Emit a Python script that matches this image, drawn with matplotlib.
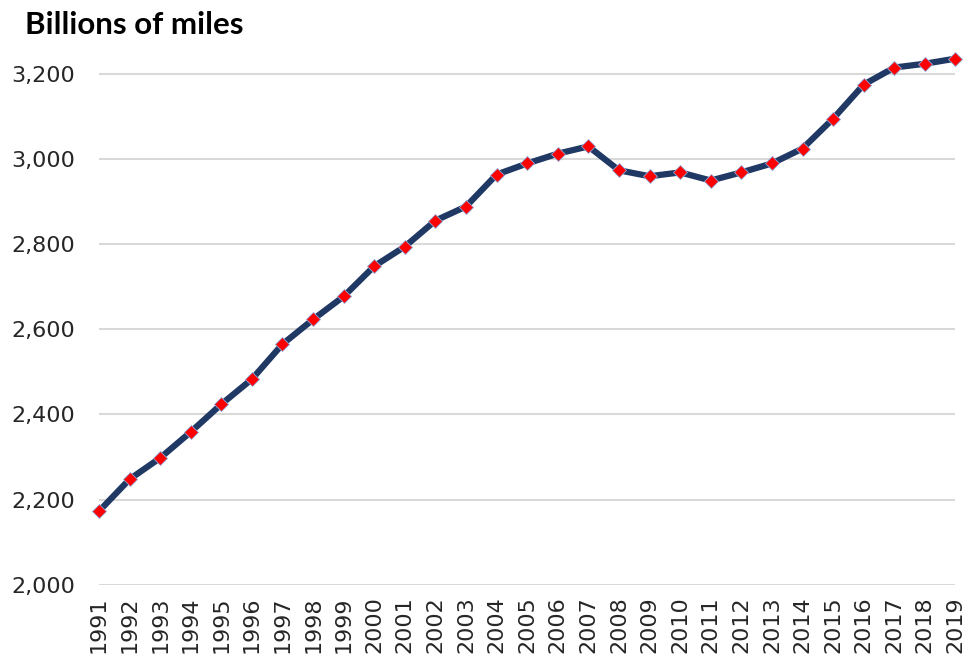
import matplotlib
matplotlib.use("Agg")
from matplotlib import pyplot as plt
from matplotlib.ticker import FuncFormatter
import numpy as np

# Vehicle miles travelled, billions of miles
years = list(range(1991, 2020))
miles = [2173, 2248, 2298, 2359, 2424, 2483, 2565, 2623, 2677, 2748,
         2794, 2855, 2888, 2963, 2989, 3012, 3029, 2973, 2959, 2968,
         2949, 2968, 2989, 3024, 3094, 3174, 3214, 3223, 3235]
y_ticks = [2000, 2200, 2400, 2600, 2800, 3000, 3200]
title = "Billions of miles"

fig = plt.figure(figsize=(9.7, 6.61), dpi=100)
ax = fig.add_axes([0.102, 0.115, 0.883, 0.806])

ax.plot(years, miles, color="#203864", linewidth=4.5, solid_joinstyle="round",
        marker="D", markersize=7.5, markerfacecolor="#ff0000",
        markeredgecolor="#8ea9db", markeredgewidth=0.6, zorder=3,
        clip_on=False)

ax.set_xlim(years[0], years[-1])
ax.set_ylim(2000, 3250)
ax.set_yticks(y_ticks)
ax.yaxis.set_major_formatter(FuncFormatter(lambda v, p: "{:,.0f}".format(v)))
ax.set_xticks(years)
ax.set_xticklabels([str(y) for y in years], rotation=90)

ax.grid(axis="y", color="#d9d9d9", linewidth=1.5)
ax.set_axisbelow(True)
for s in ax.spines.values():
    s.set_visible(False)
ax.tick_params(axis="both", length=0, labelsize=16, colors="#262626")
ax.tick_params(axis="y", pad=17)
ax.tick_params(axis="x", pad=8)

fig.text(0.026, 0.962, title, fontsize=22.5, fontweight="bold",
         family="Lato", va="center", ha="left", color="black")

fig.savefig("out.png", dpi=100)
